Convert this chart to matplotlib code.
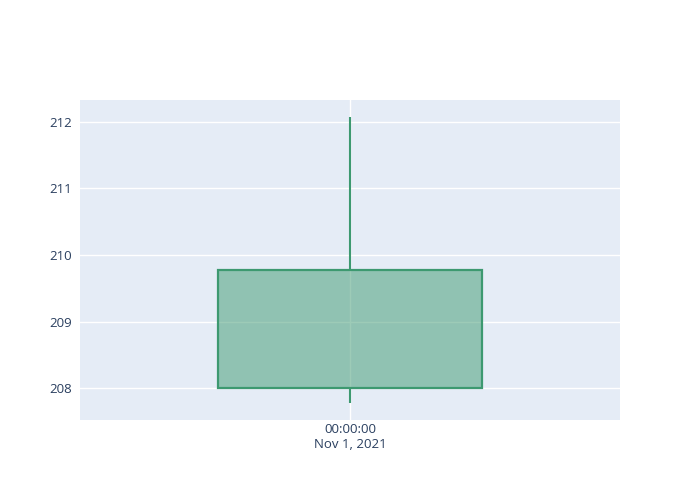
import datetime as dt
import matplotlib
matplotlib.use("Agg")
import matplotlib.pyplot as plt
import matplotlib.dates as mdates
from matplotlib.patches import Rectangle

# Data (one daily candle)
dates = [dt.datetime(2021, 11, 1)]
opens = [208.0]
highs = [212.08]
lows = [207.77]
closes = [209.78]

inc_color = "#3D9970"
bg = "#E5ECF6"
text_color = "#2a3f5f"

plt.rcParams["font.family"] = ["Open Sans", "DejaVu Sans"]

fig = plt.figure(figsize=(7, 5), dpi=100)
ax = fig.add_axes([80 / 700, 80 / 500, 540 / 700, 320 / 500])
ax.set_facecolor(bg)

half_w = 0.49  # in days
for d, o, h, l, c in zip(dates, opens, highs, lows, closes):
    x = mdates.date2num(d)
    lo_b, hi_b = min(o, c), max(o, c)
    ax.add_patch(Rectangle((x - half_w, lo_b), 2 * half_w, hi_b - lo_b,
                           facecolor=inc_color, alpha=0.5, edgecolor="none", zorder=3))
    ax.add_patch(Rectangle((x - half_w, lo_b), 2 * half_w, hi_b - lo_b,
                           facecolor="none", edgecolor=inc_color, lw=1.6, zorder=4))
    ax.plot([x, x], [hi_b, h], color=inc_color, lw=1.5, zorder=4, solid_capstyle="butt")
    ax.plot([x, x], [l, lo_b], color=inc_color, lw=1.5, zorder=4, solid_capstyle="butt")

x0 = mdates.date2num(dates[0])
ax.set_xlim(x0 - 1, x0 + 1)
ax.set_ylim(207.52, 212.33)
ax.set_xticks([x0])
ax.set_xticklabels([dates[0].strftime("%H:%M:%S") + "\n" + "Nov 1, 2021"])
ax.set_yticks([208, 209, 210, 211, 212])

ax.grid(True, color="white", lw=1)
ax.set_axisbelow(True)
for s in ax.spines.values():
    s.set_visible(False)
ax.tick_params(length=0, colors=text_color, labelsize=9.5)
ax.tick_params(axis="x", pad=2)
ax.tick_params(axis="y", pad=6)
for lab in ax.get_xticklabels():
    lab.set_linespacing(1.25)

fig.savefig("out.png", dpi=100)
